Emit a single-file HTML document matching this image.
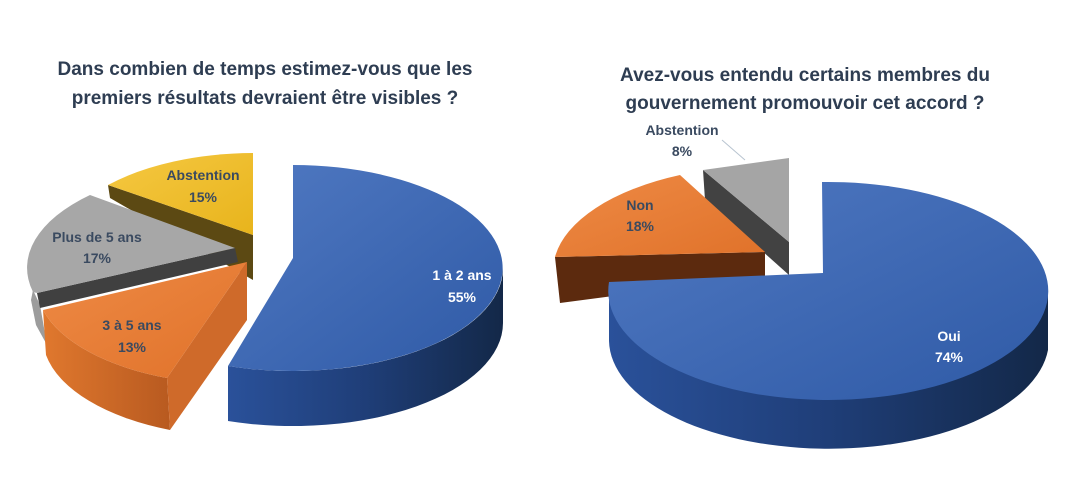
<!DOCTYPE html>
<html><head><meta charset="utf-8"><style>
html,body{margin:0;padding:0;background:#fff;}
svg{display:block;}
text{font-family:"Liberation Sans",sans-serif;font-weight:bold;}
</style></head><body>
<svg width="1074" height="485" viewBox="0 0 1074 485" xmlns="http://www.w3.org/2000/svg">
<defs>
<linearGradient id="bt" x1="0" y1="0" x2="1" y2="1"><stop offset="0" stop-color="#5079c2"/><stop offset="1" stop-color="#2f5aa6"/></linearGradient>
<linearGradient id="bs" x1="0" y1="0" x2="1" y2="0"><stop offset="0" stop-color="#2a519a"/><stop offset="0.5" stop-color="#1f3e78"/><stop offset="1" stop-color="#132848"/></linearGradient>
<linearGradient id="ot" x1="0" y1="0" x2="1" y2="1"><stop offset="0" stop-color="#ee8a45"/><stop offset="1" stop-color="#e0722a"/></linearGradient>
<linearGradient id="os" x1="0" y1="0" x2="1" y2="0"><stop offset="0" stop-color="#e0782e"/><stop offset="1" stop-color="#b85a20"/></linearGradient>
<linearGradient id="yt" x1="0" y1="0" x2="1" y2="1"><stop offset="0" stop-color="#f5c842"/><stop offset="1" stop-color="#e8b41c"/></linearGradient>
</defs>
<g fill="#2e3d52" font-size="19" text-anchor="middle">
<text x="265" y="75">Dans combien de temps estimez-vous que les</text>
<text x="265" y="104">premiers résultats devraient être visibles ?</text>
<text x="805" y="81">Avez-vous entendu certains membres du</text>
<text x="805" y="109">gouvernement promouvoir cet accord ?</text>
</g>
<!-- LEFT CHART -->
<path d="M108,185 L253,235 L253,280 L110,198 Z" fill="#5c4913"/>
<path d="M253,235 L108,185 A200 100 0 0 1 253,153 Z" fill="url(#yt)"/>
<path d="M33,290 L40,305 L47,345 L36,325 L31,300 Z" fill="#9c9c9c"/>
<path d="M37,293 L235,248 L238,262 L40,308 Z" fill="#404040"/>
<path d="M235,248 L90,195 A200 100 0 0 0 33,292 L37,293 Z" fill="#a7a7a7"/>
<path d="M167,378 A200 100 0 0 1 43,310 L46,355 A200 100 0 0 0 170,430 Z" fill="url(#os)"/>
<path d="M247,262 L167,378 L170,430 L247,320 Z" fill="#cf6a2a"/>
<path d="M247,262 L167,378 A200 100 0 0 1 43,310 Z" fill="url(#ot)"/>
<path d="M228,366 A210 103 0 0 0 503,268 L503,323 A210 103 0 0 1 228,421 Z" fill="url(#bs)"/>
<path d="M293,258 L293,165 A210 103 0 1 1 228,366 Z" fill="url(#bt)"/>
<g font-size="14" text-anchor="middle" fill="#3a4a60">
<text x="203" y="180">Abstention</text><text x="203" y="202">15%</text>
<text x="97" y="242">Plus de 5 ans</text><text x="97" y="263">17%</text>
<text x="132" y="330">3 à 5 ans</text><text x="132" y="352">13%</text>
<text x="462" y="280" fill="#fff">1 à 2 ans</text><text x="462" y="302" fill="#fff">55%</text>
</g>
<!-- RIGHT CHART -->
<path d="M703,170 L789,242 L789,275 L705,200 Z" fill="#424242"/>
<path d="M703,170 L789,158 L789,242 Z" fill="#a5a5a5"/>
<path d="M555,257 L765,252 L765,276 L560,303 Z" fill="#5c2a0e"/>
<path d="M765,252 L680,175 A215 105 0 0 0 555,257 Z" fill="url(#ot)"/>
<path d="M609,282 A220 109 0 0 0 1048,291 L1048,350 A220 109 0 0 1 609,341 Z" fill="url(#bs)"/>
<path d="M823,273 L822,182 A220 109 0 1 1 609,282 Z" fill="url(#bt)"/>
<line x1="722" y1="140" x2="745" y2="160" stroke="#b8c4d0" stroke-width="1"/>
<g font-size="14" text-anchor="middle" fill="#3a4a60">
<text x="682" y="135">Abstention</text><text x="682" y="156">8%</text>
<text x="640" y="210">Non</text><text x="640" y="231">18%</text>
<text x="949" y="341" fill="#fff">Oui</text><text x="949" y="362" fill="#fff">74%</text>
</g>
</svg>
</body></html>
